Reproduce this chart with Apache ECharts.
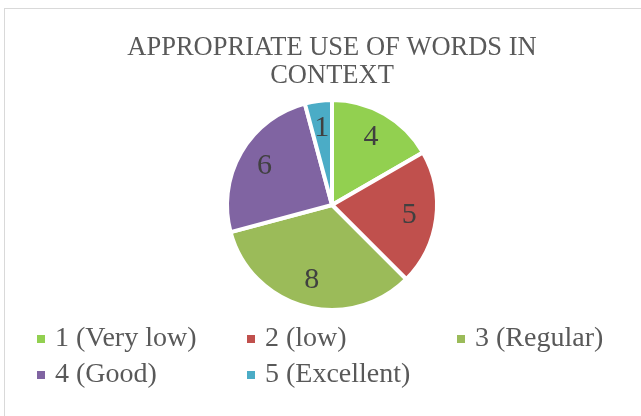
<!DOCTYPE html>
<html>
<head>
<meta charset="utf-8">
<script src="https://cdn.jsdelivr.net/npm/echarts@6/dist/echarts.min.js"></script>
<style>
  html, body { margin: 0; padding: 0; background: #fff; }
  .frame {
    position: absolute; left: 4px; top: 8px; width: 660px; height: 420px;
    border-left: 1px solid #d9d9d9; border-top: 1px solid #d9d9d9;
  }
  #chart { position: absolute; left: 0; top: 0; width: 641px; height: 416px; }
</style>
</head>
<body>
<div class="frame"></div>
<div id="chart"></div>
<script>
// data
const categories = ["1 (Very low)", "2 (low)", "3 (Regular)", "4 (Good)", "5 (Excellent)"];
const counts = [4, 5, 8, 6, 1];
const colors = ["#92D050", "#C0504D", "#9BBB59", "#8064A2", "#4BACC6"];

const chart = echarts.init(document.getElementById("chart"));

const pieData = categories.map((name, i) => ({
  name: name,
  value: counts[i],
  itemStyle: { color: colors[i] },
}));

const center = [332, 205];
const font = "'Liberation Serif', 'Times New Roman', serif";

// one legend per entry so they sit in 3 fixed columns like Office does
const legends = categories.map((name, i) => ({
  data: [name],
  left: 35 + (i % 3) * 210,
  top: 325 + Math.floor(i / 3) * 36,
  orient: "horizontal",
  icon: "rect",
  itemWidth: 10,
  itemHeight: 10,
  itemGap: 0,
  padding: 0,
  textStyle: {
    fontFamily: font,
    fontSize: 28,
    color: "#595959",
    padding: [0, 0, 0, 4],
  },
}));

chart.setOption({
  animation: false,
  title: {
    text: "APPROPRIATE USE OF WORDS IN\nCONTEXT",
    left: 327,
    textAlign: "center",
    top: 29,
    textStyle: {
      fontFamily: font,
      fontSize: 26.5,
      fontWeight: "normal",
      color: "#595959",
      lineHeight: 28,
    },
  },
  legend: legends,
  series: [
    {
      name: "slices",
      type: "pie",
      center: center,
      radius: 105,
      startAngle: 90,
      clockwise: true,
      silent: true,
      label: { show: false },
      labelLine: { show: false },
      itemStyle: { borderColor: "#ffffff", borderWidth: 4 },
      data: pieData,
    },
    {
      // label carrier: same values, transparent, labels at ~0.73 r
      name: "labels",
      type: "pie",
      center: center,
      radius: [46, 104],
      startAngle: 90,
      clockwise: true,
      silent: true,
      itemStyle: { color: "rgba(0,0,0,0)" },
      label: {
        show: true,
        position: "inside",
        formatter: "{c}",
        fontFamily: font,
        fontSize: 30,
        color: "#404040",
      },
      labelLine: { show: false },
      data: categories.map((name, i) => ({ name: name, value: counts[i] })),
    },
  ],
});
</script>
</body>
</html>
